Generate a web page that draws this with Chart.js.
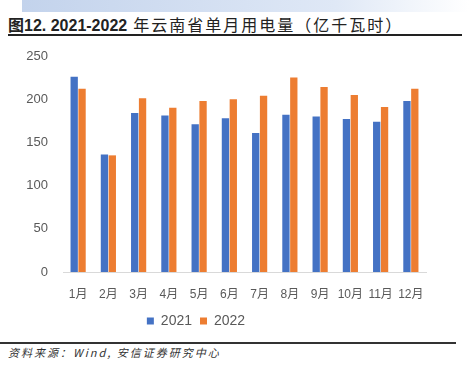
<!DOCTYPE html>
<html>
<head>
<meta charset="utf-8">
<script src="https://cdn.jsdelivr.net/npm/chart.js@4/dist/chart.umd.min.js"></script>
<style>
  body { margin: 0; width: 469px; height: 372px; background: #fff; position: relative; overflow: hidden;
         font-family: "Liberation Sans", "Noto Sans CJK SC", sans-serif; }
  #banner { position: absolute; left: 22px; top: 0; width: 447px; height: 12px;
            background: linear-gradient(to right, #c3d3ec, #dfe8f6 70%, #ffffff); }
  #title { position: absolute; left: 8px; top: 12px; font-size: 16px; color: #222; white-space: nowrap; }
  #title b { font-weight: bold; }
  #title span { letter-spacing: 2px; margin-left: 6px; }
  #rule1 { position: absolute; left: 8px; top: 34px; width: 454px; height: 2px; background: #222; }
  #rule2 { position: absolute; left: 0; top: 342px; width: 456px; height: 2px; background: #333; }
  #source { position: absolute; left: 8px; top: 344px; font-size: 11px; font-style: italic; color: #333;
            letter-spacing: 2px; font-family: "Noto Sans CJK SC", sans-serif; white-space: nowrap; }
  #wrap { position: absolute; left: 0; top: 40px; width: 469px; height: 300px; }
</style>
</head>
<body>
<div id="banner"></div>
<div id="title"><b>图12. 2021-2022</b><span>年云南省单月用电量（亿千瓦时）</span></div>
<div id="rule1"></div>
<div id="wrap"><canvas id="powerChart"></canvas></div>
<div id="rule2"></div>
<div id="source">资料来源：Wind, 安信证券研究中心</div>
<script>
// Monthly electricity use in Yunnan (100 million kWh)
const months = ['1月', '2月', '3月', '4月', '5月', '6月', '7月', '8月', '9月', '10月', '11月', '12月'];
const values2021 = [226, 136, 184, 181, 171, 178, 161, 182, 180, 177, 174, 198];
const values2022 = [212, 135, 201, 190, 198, 200, 204, 225, 214, 205, 191, 212];
const yTicks = [0, 50, 100, 150, 200, 250];

// nudge the legend left, the source places it off-centre
const legendShift = {
    id: 'legendShift',
    afterLayout(c) {
        c.legend.left -= 17;
        c.legend.right -= 17;
    }
};

const ctx = document.getElementById('powerChart').getContext('2d');
const chart = new Chart(ctx, {
    type: 'bar',
    data: {
        labels: months,
        datasets: [
            { label: '2021', data: values2021, backgroundColor: '#4472C4' },
            { label: '2022', data: values2022, backgroundColor: '#ED7D31' }
        ]
    },
    plugins: [legendShift],
    options: {
        responsive: true,
        maintainAspectRatio: false,
        animation: false,
        datasets: { bar: { categoryPercentage: 0.52, barPercentage: 0.93 } },
        layout: { padding: { top: 16, right: 43, left: 0, bottom: 2 } },
        scales: {
            y: {
                min: yTicks[0],
                max: yTicks[yTicks.length - 1],
                afterBuildTicks: scale => { scale.ticks = yTicks.map(v => ({ value: v })); },
                // invisible tick marks give the label gap without adding top padding
                grid: { display: false, drawTicks: true, tickLength: 15, tickColor: 'rgba(0,0,0,0)' },
                border: { display: false },
                ticks: { color: '#595959', font: { size: 13, family: 'Liberation Sans' }, padding: 0 },
                afterFit: scale => { scale.width = 63; }
            },
            x: {
                grid: { display: false, drawTicks: false },
                border: { color: '#d9d9d9', width: 1 },
                ticks: { color: '#595959', font: { size: 12, family: '"Liberation Sans", "Noto Sans CJK SC"' },
                         padding: 15, maxRotation: 0, autoSkip: false },
                afterFit: scale => { scale.height = 34; }
            }
        },
        plugins: {
            legend: {
                position: 'bottom',
                labels: { boxWidth: 7, boxHeight: 7, padding: 8, color: '#595959',
                          font: { size: 14, family: 'Liberation Sans' } }
            },
            tooltip: { enabled: false }
        }
    }
});
</script>
</body>
</html>
